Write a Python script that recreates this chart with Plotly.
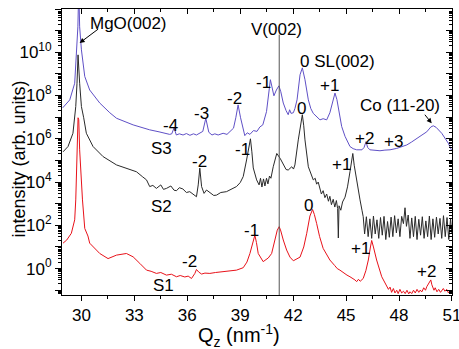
import plotly.graph_objects as go

# ---------------- data ----------------
s1_q = [28.96, 29.17, 29.43, 29.62, 29.68, 29.77, 29.81, 29.85, 29.90, 30.06, 30.19, 30.37, 30.47,
        30.85, 31.04, 31.51, 31.99, 32.55, 32.93, 33.31, 33.69, 33.95, 34.25, 34.5, 34.82, 35.1,
        35.39, 35.6, 35.86, 36.05, 36.24, 36.43, 36.52, 36.65, 36.81, 37.0, 37.28, 37.6, 38.03,
        38.4, 38.79, 39.17, 39.38, 39.55, 39.70, 39.83, 39.92, 40.02, 40.30, 40.59, 40.78, 40.97,
        41.10, 41.21, 41.30, 41.44, 41.63, 41.82, 42.01, 42.39, 42.60, 42.77, 42.95, 43.10, 43.20,
        43.33, 43.50, 43.70, 44.08, 44.35, 44.5, 44.65, 44.78, 44.9, 45.05, 45.22, 45.4, 45.5,
        45.60, 45.7, 45.8, 45.9, 45.97, 46.12, 46.26, 46.38, 46.45, 46.55, 46.73, 47.02, 47.30,
        47.40, 47.49, 47.58, 47.68, 47.77, 47.87, 47.95, 48.05, 48.15, 48.25, 48.35, 48.45, 48.55,
        48.62, 48.72, 48.82, 48.92, 49.02, 49.12, 49.19, 49.3, 49.4, 49.5, 49.57, 49.65, 49.72,
        49.80, 49.86, 49.92, 49.98, 50.05, 50.15, 50.25, 50.35, 50.51, 50.6, 50.7, 50.8, 50.9, 50.99]
s1_int = [15, 21, 43, 180, 1.5e3, 3.1e5, 9.4e6, 7.6e6, 3.1e5, 1.5e3, 72, 32, 15,
          7.2, 5.0, 2.9, 4.2, 5.0, 3.5, 1.74, 0.85, 0.75, 0.60, 0.66, 0.50, 0.55,
          0.42, 0.48, 0.41, 0.45, 0.35, 0.60, 0.91, 0.69, 0.56, 0.62, 0.60, 0.66, 0.71,
          0.78, 0.85, 1.1, 2.0, 5.0, 14, 35, 16, 5.0, 2.1, 3.1, 5.0, 21,
          60, 87, 55, 21, 7.2, 3.4, 2.3, 3.4, 10, 43, 270, 540, 320,
          123, 30, 8.6, 2.5, 1.4, 1.0, 0.85, 0.7, 0.6, 0.5, 0.42, 0.35, 0.3,
          0.25, 0.32, 0.26, 0.33, 0.35, 0.8, 2.5, 10, 20, 10, 2.5, 0.42, 0.17,
          0.11, 0.14, 0.08, 0.12, 0.075, 0.10, 0.07, 0.11, 0.075, 0.09, 0.07, 0.10, 0.068,
          0.085, 0.07, 0.10, 0.075, 0.11, 0.08, 0.10, 0.085, 0.13, 0.10, 0.145, 0.18, 0.22,
          0.30, 0.18, 0.14, 0.10, 0.13, 0.085, 0.11, 0.08, 0.12, 0.09, 0.11, 0.075, 0.10, 0.085]

s2_q = [28.96, 29.24, 29.52, 29.68, 29.75, 29.81, 29.90, 30.00, 30.13, 30.28, 30.66, 31.23, 31.99,
        32.55, 33.12, 33.45, 33.69, 33.87, 34.05, 34.25, 34.5, 34.65, 34.82, 35.07, 35.25, 35.39,
        35.55, 35.75, 35.95, 36.14, 36.35, 36.52, 36.62, 36.71, 36.81, 36.95, 37.09, 37.33, 37.5,
        37.66, 37.9, 38.22, 38.5, 38.79, 39.0, 39.17, 39.36, 39.50, 39.58, 39.66, 39.74, 39.93,
        40.07, 40.15, 40.23, 40.32, 40.40, 40.49, 40.57, 40.66, 40.74, 40.87, 41.07, 41.26, 41.44,
        41.6, 41.72, 41.82, 41.92, 42.02, 42.10, 42.29, 42.42, 42.52, 42.60, 42.67, 42.86, 43.0,
        43.14, 43.25, 43.33, 43.42, 43.52, 43.6, 43.7, 43.8, 43.9, 44.0, 44.08, 44.17, 44.27,
        44.36, 44.45, 44.52, 44.56, 44.60, 44.70, 44.8, 44.94, 45.08, 45.22, 45.32, 45.38, 45.46,
        45.56, 45.68, 45.79, 45.90, 45.97,
        46.05, 46.15, 46.25, 46.35, 46.45, 46.55, 46.65, 46.75, 46.85, 46.95, 47.05, 47.15, 47.25,
        47.35, 47.45, 47.55, 47.65, 47.75, 47.85, 47.95, 48.05, 48.15, 48.25, 48.34, 48.42, 48.52,
        48.62, 48.72, 48.82, 48.92, 49.02, 49.12, 49.22, 49.32, 49.42, 49.52, 49.62, 49.72, 49.82,
        49.92, 50.02, 50.12, 50.22, 50.32, 50.42, 50.52, 50.62, 50.72, 50.82, 50.92, 51.0]
s2_int = [2.5e5, 4.4e5, 1.8e6, 3.1e7, 3.7e8, 7.6e9, 3.7e8, 3.1e7, 9.4e6, 1.8e6, 4.4e5, 1.5e5, 6.2e4,
          4.4e4, 3.0e4, 1.8e4, 1.26e4, 6.2e3, 7.0e3, 5.1e3, 7.4e3, 4.6e3, 5.1e3, 6.6e3, 4.2e3, 4.0e3,
          5.5e3, 4.8e3, 3.3e3, 3.6e3, 2.6e3, 2.1e3, 7.4e3, 4.4e4, 6.2e3, 3.0e3, 4.3e3, 3.2e3, 2.4e3,
          2.5e3, 3.3e3, 3.6e3, 4.8e3, 6.2e3, 9.5e3, 1.8e4, 1.05e5, 4.5e5, 1.0e6, 2.5e5, 4.5e4, 1.26e4,
          7.4e3, 1.5e4, 5.9e3, 1.4e4, 6.6e3, 1.5e4, 8.2e3, 1.9e4, 1.5e4, 5.1e4, 2.1e5, 1.26e5, 6.2e4,
          3.8e4, 3.6e4, 4.5e4, 5.1e4, 4.0e4, 6.2e4, 8.9e5, 5.0e6, 1.3e7, 4.0e6, 8.9e5, 5.1e4, 2.5e4,
          1.26e4, 1.5e4, 8.0e3, 1.0e4, 5.0e3, 2.8e3, 4.0e3, 1.9e3, 2.8e3, 1.3e3, 2.2e3, 9.0e2, 1.6e3,
          7.0e2, 1.4e3, 6.0e2, 26, 8.0e2, 5.0e2, 1.2e3, 2.0e3, 6.0e3, 3.0e4, 1.2e5, 2.1e5, 6.0e4,
          1.7e4, 5.0e3, 1.5e3, 5.0e2, 2.5e2,
          40, 250, 30, 200, 25, 270, 40, 180, 25, 230, 35, 260, 22,
          150, 28, 240, 30, 280, 45, 200, 30, 260, 120, 650, 90, 300,
          25, 220, 30, 260, 22, 190, 35, 250, 25, 160, 30, 270, 22,
          200, 28, 240, 40, 210, 25, 280, 30, 230, 22, 200, 40]

s3_q = [28.94, 29.34, 29.62, 29.75, 29.80, 29.85, 29.90, 30.00, 30.19, 30.47, 31.04, 31.61, 31.99,
        32.93, 33.87, 34.4, 34.82, 35.0, 35.12, 35.25, 35.38, 35.55, 35.76, 35.95, 36.15, 36.35,
        36.52, 36.7, 36.88, 37.05, 37.22, 37.4, 37.56, 37.75, 38.03, 38.25, 38.45, 38.62, 38.75,
        38.88, 39.02, 39.17, 39.26, 39.4, 39.55, 39.75, 39.95, 40.11, 40.28, 40.49, 40.62, 40.71,
        40.80, 40.91, 41.05, 41.19, 41.30, 41.44, 41.60, 41.72, 41.80, 41.88, 42.01, 42.10, 42.22,
        42.39, 42.52, 42.67, 42.86, 43.0, 43.14, 43.3, 43.52, 43.7, 43.90, 44.08, 44.25, 44.37,
        44.48, 44.56, 44.75, 44.94, 45.22, 45.40, 45.60, 45.90, 46.02, 46.13, 46.22, 46.35, 46.6,
        46.92, 47.2, 47.49, 47.87, 48.1, 48.44, 48.7, 49.0, 49.3, 49.57, 49.8, 49.94, 50.1, 50.42,
        50.6, 50.79, 50.99]
s3_int = [2.7e7, 6.3e7, 3.7e8, 1.3e10, 1.5e11, 1e13, 1.5e11, 1.3e10, 7.6e8, 1.8e8, 4.5e7, 1.6e7, 8.9e6,
          4.4e6, 2.6e6, 2.1e6, 1.8e6, 1.6e6, 1.7e6, 3.2e6, 1.5e6, 1.7e6, 1.5e6, 1.75e6, 1.45e6, 1.7e6,
          1.5e6, 1.8e6, 2.2e6, 8.9e6, 2.0e6, 1.5e6, 1.7e6, 1.5e6, 1.8e6, 1.6e6, 2.2e6, 3.1e6, 9.4e6,
          3.7e7, 9.4e6, 3.2e6, 1.4e6, 1.9e6, 1.6e6, 2.4e6, 2.2e6, 3.5e6, 4.4e6, 1.8e7, 1.5e8, 5.4e8,
          2.5e8, 9.7e7, 1.8e8, 2.8e8, 1.5e8, 4.5e7, 2.0e7, 1.3e7, 2.2e7, 1.5e7, 1.6e7, 2.5e7, 6.3e7,
          9.1e8, 1.9e9, 5.4e8, 6.3e7, 2.5e7, 1.5e7, 1.1e7, 7.5e6, 8.5e6, 7.5e6, 1.6e7, 6.3e7, 1.3e8,
          6.5e7, 3.0e7, 3.7e6, 1.3e6, 4.4e5, 3.5e5, 3.1e5, 3.1e5, 4.0e5, 7.4e5, 4.0e5, 3.1e5, 2.9e5,
          2.8e5, 3.0e5, 3.1e5, 3.6e5, 4.2e5, 5.2e5, 7.0e5, 1.07e6, 1.5e6, 2.1e6, 3.5e6, 4.0e6, 3.4e6, 1.8e6,
          1.1e6, 6.3e5, 2.8e5]

v002_q = [41.21, 41.21]
v002_int = [0.05, 6.5e10]

# labels: (text, Q position, log10 intensity position)
peak_labels = [
    ("MgO(002)", 32.69, 11.32), ("V(002)", 41.06, 11.06), ("0 SL(002)", 44.51, 9.57),
    ("-4", 35.04, 6.60), ("-3", 36.81, 7.19), ("-2", 38.70, 7.88), ("-1", 40.34, 8.59),
    ("+1", 44.04, 8.45), ("Co (11-20)", 48.08, 7.55), ("+2", 46.07, 6.03), ("+3", 47.67, 5.87),
    ("S3", 34.54, 5.56),
    ("-2", 36.71, 4.94), ("-1", 39.12, 5.49), ("0", 42.48, 7.38), ("+1", 44.75, 4.79),
    ("S2", 34.54, 2.86),
    ("-2", 36.14, 0.315), ("-1", 39.64, 1.78), ("0", 42.85, 2.92), ("+1", 45.79, 0.935),
    ("+2", 49.57, -0.15), ("S1", 34.63, -0.76),
]
# arrows: (tip Q, tip log10 I, dx px, dy px)
arrows = [(29.90, 10.43, 20, -15), (49.85, 6.72, -8, -10)]

y_tick_exp = list(range(-1, 13))
x_range = [28.9, 51.002]
y_range = [-1.22, 12.0]

# ---------------- figure ----------------
FONT = "Arial, Liberation Sans, sans-serif"
fig = go.Figure()
fig.add_trace(go.Scatter(x=s1_q, y=s1_int, mode="lines", line=dict(color="#e8121a", width=1)))
fig.add_trace(go.Scatter(x=s2_q, y=s2_int, mode="lines", line=dict(color="#2a2a2a", width=1)))
fig.add_trace(go.Scatter(x=s3_q, y=s3_int, mode="lines", line=dict(color="#5f50c6", width=1)))
fig.add_trace(go.Scatter(x=v002_q, y=v002_int, mode="lines", line=dict(color="#555555", width=1),
                         xaxis="x2", yaxis="y2"))

major_vals = [10.0 ** e for e in y_tick_exp]
major_text = [f"10<sup>{e}</sup>" if (e % 2 == 0 and e >= 0 and e <= 10) else "" for e in y_tick_exp]
minor_vals = [k * 10.0 ** e for e in range(-2, 12) for k in range(2, 10)]

axis_common = dict(showgrid=False, zeroline=False, showline=True, linecolor="black", linewidth=1,
                   tickcolor="black", tickwidth=1, automargin=False)

fig.update_layout(
    width=459, height=349,
    margin=dict(l=62, r=7, t=9, b=54),
    paper_bgcolor="white", plot_bgcolor="white",
    showlegend=False,
    font=dict(family=FONT, size=17, color="black"),
    xaxis=dict(range=x_range, tickmode="linear", tick0=30, dtick=3, ticks="outside", ticklen=5,
               ticklabeloverflow="allow",
               minor=dict(dtick=1.5, tick0=30, ticks="outside", ticklen=3, tickcolor="black"),
               tickfont=dict(size=17), **axis_common),
    xaxis2=dict(range=x_range, overlaying="x", side="top", tickmode="linear", tick0=30, dtick=3,
                ticks="inside", ticklen=5, showticklabels=False,
                minor=dict(dtick=1.5, tick0=30, ticks="inside", ticklen=3, tickcolor="black"),
                **axis_common),
    yaxis=dict(type="log", range=y_range, tickmode="array", tickvals=major_vals, ticktext=major_text,
               ticks="outside", ticklen=6, tickfont=dict(size=17),
               minor=dict(tickmode="array", tickvals=minor_vals, ticks="outside", ticklen=3,
                          tickcolor="black"),
               **axis_common),
    yaxis2=dict(type="log", range=y_range, overlaying="y", side="right", tickmode="array",
                tickvals=major_vals, ticktext=["" for _ in major_vals], ticks="inside", ticklen=6,
                showticklabels=False,
                minor=dict(tickmode="array", tickvals=minor_vals, ticks="inside", ticklen=3,
                           tickcolor="black"),
                **axis_common),
)

for text, q, ly in peak_labels:
    fig.add_annotation(x=q, y=ly, text=text, showarrow=False, xref="x", yref="y",
                       font=dict(size=17, family=FONT), xanchor="center", yanchor="middle")
for q, ly, dx, dy in arrows:
    fig.add_annotation(x=q, y=ly, text="", showarrow=True, ax=dx, ay=dy, xref="x", yref="y",
                       arrowhead=2, arrowsize=1, arrowwidth=1, arrowcolor="black")

fig.add_annotation(text="intensity (arb. units)", xref="paper", yref="paper", x=-0.11, y=0.474,
                   textangle=-90, showarrow=False, font=dict(size=18, family=FONT),
                   xanchor="center", yanchor="middle")
fig.add_annotation(text="Q<sub>z</sub> (nm<sup>-1</sup>)", xref="paper", yref="paper", x=0.454, y=-0.142,
                   showarrow=False, font=dict(size=20, family=FONT), xanchor="center", yanchor="middle")

fig.write_html("out.html", config={"displayModeBar": False},
               post_script="document.body.style.margin='0px';")
